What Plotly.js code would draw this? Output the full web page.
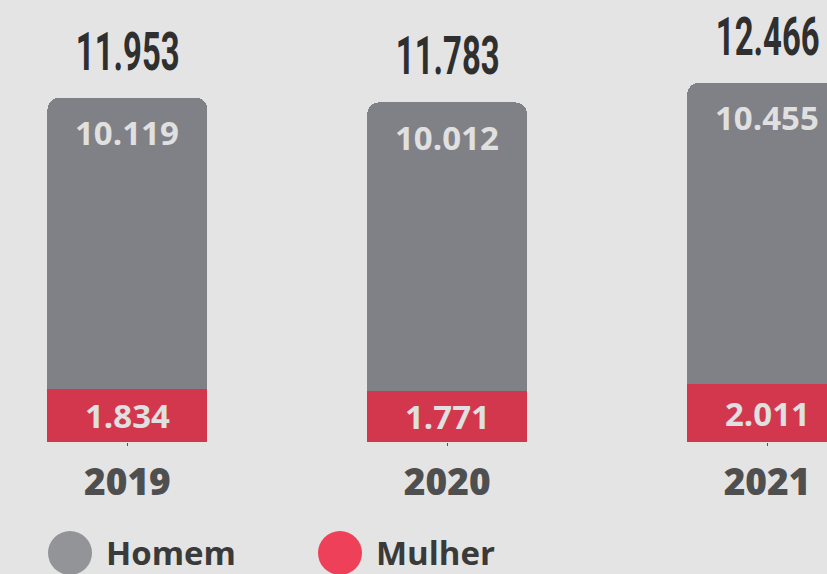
<!DOCTYPE html>
<html><head><meta charset="utf-8">
<script src="https://cdn.plot.ly/plotly-3.0.1.min.js"></script>
<style>html,body{margin:0;padding:0;background:#e4e4e4;overflow:hidden}</style>
</head><body><div id="chart" style="width:827px;height:574px"></div>
<script>
const years = ['2019', '2020', '2021'];
const homem = [10119, 10012, 10455];
const mulher = [1834, 1771, 2011];
const totals = [11953, 11783, 12466];
const seriesNames = ['Homem', 'Mulher'];

const fmt = v => v.toLocaleString('de-DE');
const xs = years.map((_, i) => i);

const valueFont = {family: 'Open Sans', size: 33, weight: 700, color: '#e0e0e0'};
const annotations = [];
xs.forEach((x, i) => {
  annotations.push({x: x, y: totals[i], xref: 'x', yref: 'y', text: fmt(totals[i]),
    showarrow: false, yanchor: 'middle', yshift: 46,
    font: {family: 'Roboto', size: 53, weight: 700, color: '#2f2f2f'}});
  annotations.push({x: x, y: totals[i], xref: 'x', yref: 'y', text: fmt(homem[i]),
    showarrow: false, yanchor: 'middle', yshift: -35, font: valueFont});
  annotations.push({x: x, y: mulher[i] / 2, xref: 'x', yref: 'y', text: fmt(mulher[i]),
    showarrow: false, yanchor: 'middle', font: valueFont});
});
const legendColors = ['#939498', '#ee4058'];
const legendX = [70, 340];
const shapes = [];
seriesNames.forEach((n, k) => {
  shapes.push({type: 'circle', xref: 'paper', yref: 'paper', xsizemode: 'pixel', ysizemode: 'pixel',
    xanchor: legendX[k] / 827, x0: -22, x1: 22, yanchor: (442 - 553) / 442, y0: -22, y1: 22,
    fillcolor: legendColors[k], line: {width: 0}});
  annotations.push({xref: 'paper', yref: 'paper', x: (legendX[k] + 34) / 827, y: (442 - 552) / 442,
    xanchor: 'left', yanchor: 'middle', text: '<b>' + n + '</b>', showarrow: false,
    font: {family: 'Open Sans', size: 33, color: '#3a3a3a'}});
});

const data = [
  {type: 'bar', name: seriesNames[1], x: xs, y: mulher, width: 0.5, marker: {color: '#d2374d', line: {width: 0}}, hoverinfo: 'skip'},
  {type: 'bar', name: seriesNames[0], x: xs, y: homem, width: 0.5, marker: {color: '#808186', line: {width: 0}}, hoverinfo: 'skip'}
];

const layout = {
  width: 827, height: 574,
  margin: {l: 0, r: 0, t: 0, b: 132},
  paper_bgcolor: '#e4e4e4', plot_bgcolor: 'rgba(0,0,0,0)',
  barmode: 'stack', barcornerradius: 12, showlegend: false,
  xaxis: {range: [-0.3984, 2.1875], tickvals: xs, ticktext: years, showgrid: false, zeroline: false,
    showline: false, ticks: 'outside', ticklen: 3, tickcolor: '#555', ticklabelstandoff: 5,
    tickfont: {family: 'Open Sans', size: 37, weight: 800, color: '#4f4f4f'}, fixedrange: true},
  yaxis: {range: [0, 15336], visible: false, fixedrange: true},
  annotations: annotations, shapes: shapes
};
Plotly.newPlot('chart', data, layout, {staticPlot: true}).then(() => {
  const totalStrs = totals.map(fmt);
  document.querySelectorAll('.annotation-text').forEach(t => {
    if (totalStrs.includes(t.textContent)) {
      t.style.transformBox = 'fill-box';
      t.style.transformOrigin = 'center';
      t.style.transform = 'scaleX(0.62)';
    }
  });
});
</script></body></html>
